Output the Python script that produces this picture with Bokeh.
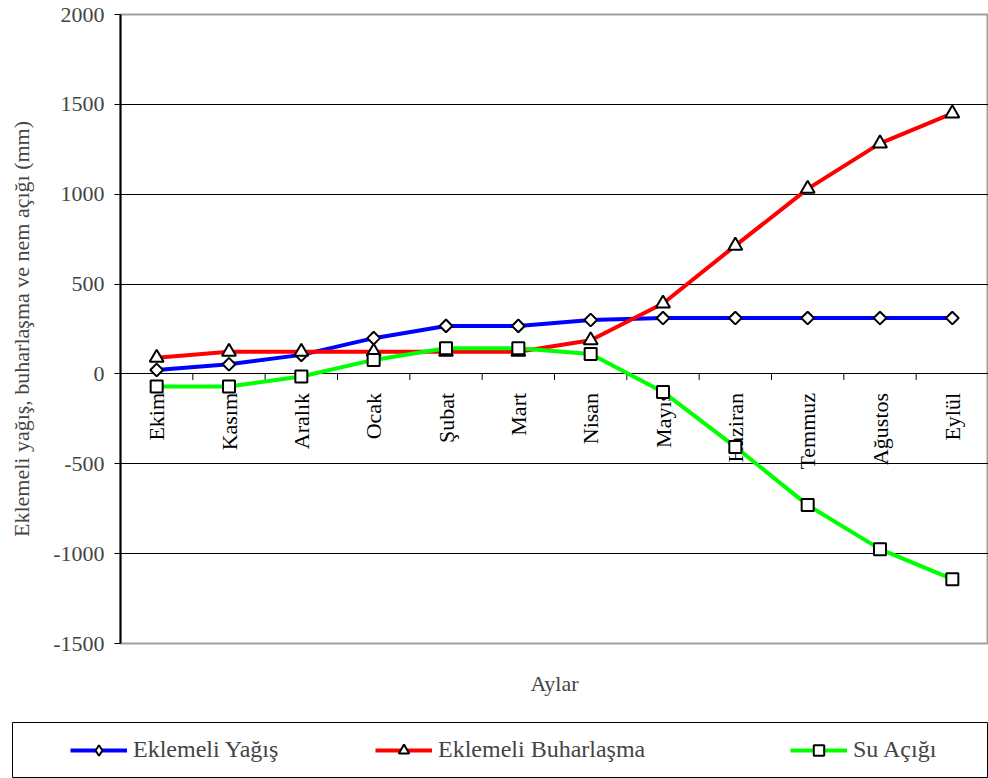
import numpy as np
from bokeh.plotting import figure
from bokeh.models import Range1d, FixedTicker, ColumnDataSource, Legend, LegendItem
from bokeh.embed import file_html
from bokeh.resources import INLINE

# Monthly cumulative values (mm), water year Ekim -> Eylül
months = ["Ekim", "Kasım", "Aralık", "Ocak", "Şubat", "Mart",
          "Nisan", "Mayıs", "Haziran", "Temmuz", "Ağustos", "Eylül"]
yagis = [22, 54, 106, 199, 267, 267, 300, 311, 311, 311, 311, 311]
buharlasma = [90, 123, 123, 123, 123, 123, 187, 392, 714, 1030, 1283, 1450]
su_acigi = [-70, -70, -14, 78, 143, 143, 111, -100, -406, -730, -975, -1142]
y_ticks = [-1500, -1000, -500, 0, 500, 1000, 1500, 2000]

series_names = ["Eklemeli Yağış", "Eklemeli Buharlaşma", "Su Açığı"]
FONT = "Liberation Serif"
BLUE, RED, GREEN = "#0000ff", "#ff0000", "#00ff00"

centers = [i + 0.5 for i in range(len(months))]
bounds = list(range(len(months) + 1))
src = ColumnDataSource(dict(x=centers, yagis=yagis, buhar=buharlasma, su=su_acigi))

p = figure(width=988, height=720, output_backend="svg", toolbar_location=None,
           x_range=Range1d(0, len(months)), y_range=Range1d(-1500, 2000),
           min_border_left=120, min_border_right=0, min_border_top=14,
           min_border_bottom=77, background_fill_color="white",
           border_fill_color="white")
p.outline_line_color = "#a0a0a0"
p.outline_line_width = 2

# y axis
p.yaxis.ticker = FixedTicker(ticks=y_ticks)
p.yaxis.major_label_overrides = {t: str(t) for t in y_ticks}
p.yaxis.axis_label = "Eklemeli yağış, buharlaşma ve nem açığı (mm)"
p.yaxis.axis_label_text_font = FONT
p.yaxis.axis_label_text_font_style = "normal"
p.yaxis.axis_label_text_font_size = "22px"
p.yaxis.axis_label_standoff = 16
p.yaxis.major_label_text_font = FONT
p.yaxis.major_label_text_font_size = "22px"
p.yaxis.major_label_standoff = 10
p.yaxis.major_tick_in = 0
p.yaxis.major_tick_out = 6
p.yaxis.minor_tick_line_color = None
p.yaxis.axis_line_color = "black"
p.yaxis.axis_line_width = 2
p.yaxis.major_tick_line_color = "black"

# x axis only carries its title; month names sit on the zero line
p.xaxis.ticker = FixedTicker(ticks=[])
p.xaxis.axis_line_color = None
p.xaxis.major_tick_line_color = None
p.xaxis.minor_tick_line_color = None
p.xaxis.major_tick_out = 0
p.xaxis.major_label_standoff = 0
p.xaxis.axis_label = "Aylar"
p.xaxis.axis_label_text_font = FONT
p.xaxis.axis_label_text_font_style = "normal"
p.xaxis.axis_label_text_font_size = "22px"
p.xaxis.axis_label_standoff = 27

p.xgrid.visible = False
p.ygrid.ticker = FixedTicker(ticks=[-1000, -500, 0, 500, 1000, 1500])
p.ygrid.grid_line_color = "black"
p.ygrid.grid_line_width = 1

# tick marks between months along the zero line
p.ray(x=bounds, y=[0] * len(bounds), length=6, length_units="screen",
      angle=-np.pi / 2, line_color="black", line_width=1)

# month labels, drawn below the series
p.text(x=centers, y=[0] * len(months), text=months, angle=np.pi / 2,
       text_align="right", text_baseline="middle", y_offset=19,
       text_font="Liberation Serif", text_font_size="22px", text_color="black")

p.line("x", "yagis", source=src, line_color=BLUE, line_width=4)
p.scatter("x", "yagis", source=src, marker="square", angle=np.pi / 4, size=9,
          fill_color="white", line_color="black", line_width=2)
p.line("x", "buhar", source=src, line_color=RED, line_width=4)
p.scatter("x", "buhar", source=src, marker="triangle", size=14,
          fill_color="white", line_color="black", line_width=2)
p.line("x", "su", source=src, line_color=GREEN, line_width=4)
p.scatter("x", "su", source=src, marker="square", size=12,
          fill_color="white", line_color="black", line_width=2)

# legend strip: its frame is the legend box; the series renderers here fall
# outside its unit ranges, so only their legend swatches show
leg = figure(width=988, height=58, output_backend="svg", toolbar_location=None,
             x_range=Range1d(0, 1), y_range=Range1d(0, 1),
             min_border_left=12, min_border_right=0, min_border_top=2,
             min_border_bottom=1, background_fill_color="white",
             border_fill_color="white")
leg.axis.visible = False
leg.grid.visible = False
leg.outline_line_color = "black"
leg.outline_line_width = 1

swatches = [("yagis", BLUE, "diamond", 13),
            ("buhar", RED, "triangle", 11),
            ("su", GREEN, "square", 10)]
legend_x = [58, 363, 778]
for name, (col_name, col, mk, sz), lx in zip(series_names, swatches, legend_x):
    lr = leg.line("x", col_name, source=src, line_color=col, line_width=4)
    sr = leg.scatter("x", col_name, source=src, marker=mk, size=sz,
                     fill_color="white", line_color="black", line_width=2)
    lg = Legend(items=[LegendItem(label=name, renderers=[lr, sr])],
                location=(lx, 14), orientation="horizontal",
                glyph_width=57, glyph_height=26, label_standoff=6,
                label_text_font=FONT, label_text_font_size="24px",
                padding=0, margin=0, border_line_color=None,
                background_fill_alpha=0)
    leg.add_layout(lg, "center")

open("out.html", "w").write(file_html([p, leg], INLINE))
